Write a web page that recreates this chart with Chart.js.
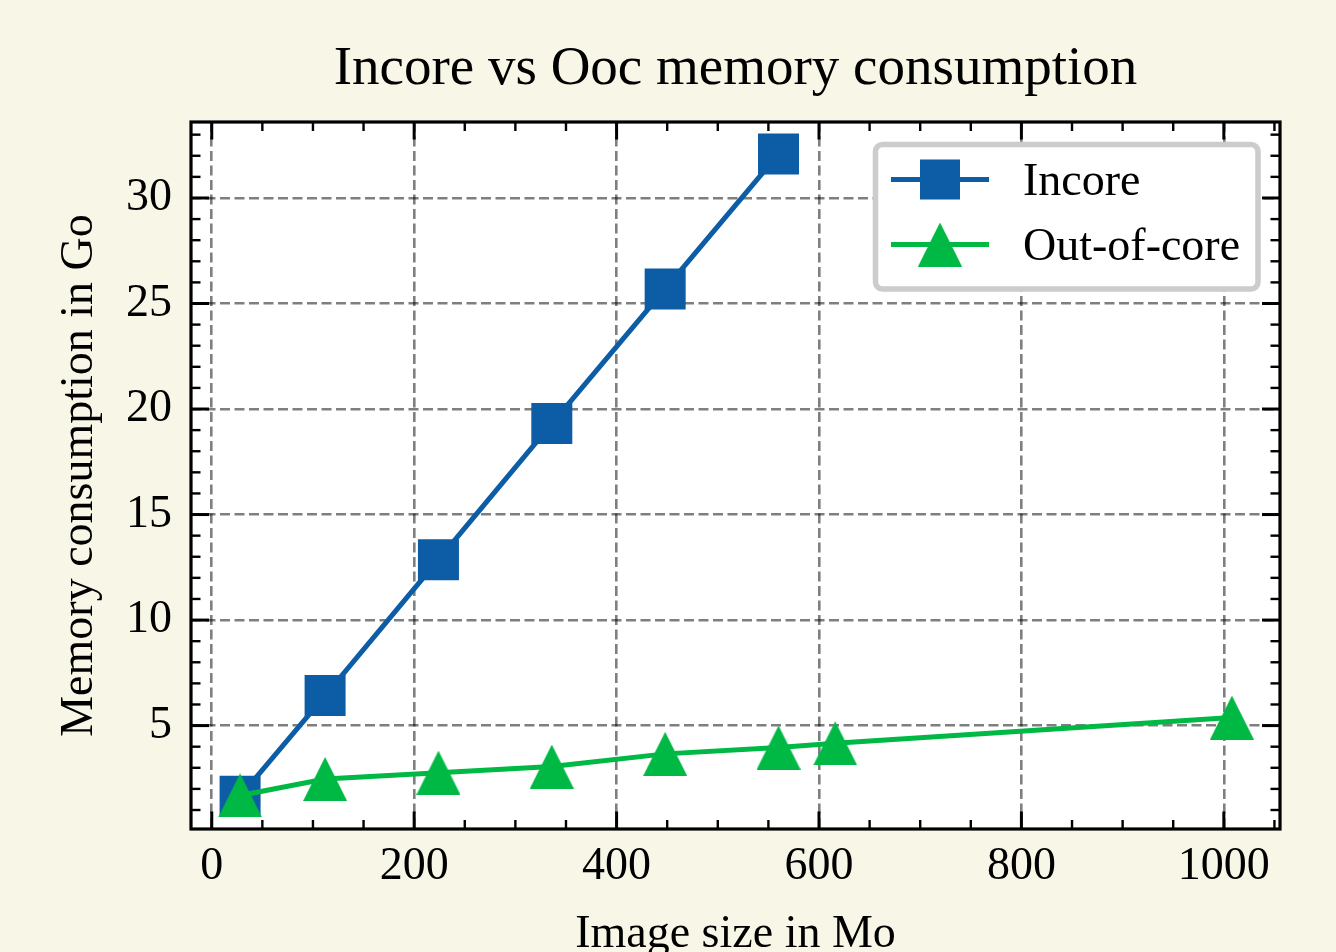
<!DOCTYPE html>
<html><head><meta charset="utf-8">
<script src="https://cdn.jsdelivr.net/npm/chart.js@4/dist/chart.umd.min.js"></script>
<style>
html,body{margin:0;padding:0;background:#f8f7e7;overflow:hidden;width:1336px;height:952px}
canvas{display:block}
</style>
</head><body>
<canvas id="c" width="1336" height="1000"></canvas>
<script>
// ---- data ----
const incoreSizes = [28, 112, 224, 336, 448, 560];
const incoreMemory = [1.65, 6.42, 12.86, 19.31, 25.69, 32.08];
const oocSizes = [28, 112, 224, 336, 448, 560, 616, 1008];
const oocMemory = [1.69, 2.47, 2.77, 3.06, 3.66, 3.96, 4.16, 5.38];
const xTickValues = [0, 200, 400, 600, 800, 1000];
const yTickValues = [5, 10, 15, 20, 25, 30];
const seriesLabels = ['Incore', 'Out-of-core'];
const seriesColors = ['#0C5DA5', '#00B945'];
const titleText = 'Incore vs Ooc memory consumption';
const xTitle = 'Image size in Mo';
const yTitle = 'Memory consumption in Go';

const FONT = "'Liberation Serif', 'Times New Roman', serif";
Chart.defaults.font.family = FONT;
Chart.defaults.color = '#000';

function triangleCanvas(color, size) {
  const c = document.createElement('canvas');
  c.width = size; c.height = size;
  const g = c.getContext('2d');
  g.fillStyle = color;
  g.beginPath();
  g.moveTo(size / 2, 0); g.lineTo(size, size); g.lineTo(0, size);
  g.closePath(); g.fill();
  return c;
}
const triImg = triangleCanvas(seriesColors[1], 44);

const toPoints = (xs, ys) => xs.map((x, i) => ({x: x, y: ys[i]}));

const framePlugin = {
  id: 'frame',
  beforeDraw(chart) {
    const {ctx, chartArea: a} = chart;
    ctx.save();
    ctx.fillStyle = '#ffffff';
    ctx.fillRect(a.left, a.top, a.right - a.left, a.bottom - a.top);
    ctx.restore();
  },
  afterDatasetsDraw(chart) {
    const {ctx, chartArea: a, scales: {x, y}} = chart;
    const seg = (x1, y1, x2, y2) => { ctx.beginPath(); ctx.moveTo(x1, y1); ctx.lineTo(x2, y2); ctx.stroke(); };
    ctx.save();
    ctx.strokeStyle = '#000';
    // minor ticks
    ctx.lineWidth = 2.4;
    for (let v = 50; v <= x.max; v += 50) {
      if (xTickValues.includes(v)) continue;
      const p = x.getPixelForValue(v);
      seg(p, a.bottom, p, a.bottom - 9); seg(p, a.top, p, a.top + 9);
    }
    for (let v = 1; v <= y.max; v += 1) {
      if (yTickValues.includes(v)) continue;
      const p = y.getPixelForValue(v);
      seg(a.left, p, a.left + 9.5, p); seg(a.right, p, a.right - 9.5, p);
    }
    // major ticks
    ctx.lineWidth = 3;
    xTickValues.forEach(v => {
      const p = x.getPixelForValue(v);
      seg(p, a.bottom, p, a.bottom - 17.5); seg(p, a.top, p, a.top + 17.5);
    });
    yTickValues.forEach(v => {
      const p = y.getPixelForValue(v);
      seg(a.left, p, a.left + 18, p); seg(a.right, p, a.right - 18, p);
    });
    // frame
    ctx.lineWidth = 3.2;
    ctx.strokeRect(a.left, a.top, a.right - a.left, a.bottom - a.top);
    ctx.restore();
  },
  afterDraw(chart) {
    const ctx = chart.ctx;
    ctx.save();
    // legend box
    const bx = 875.5, by = 144.5, bw = 382.5, bh = 144.5, r = 7;
    ctx.beginPath();
    ctx.roundRect(bx, by, bw, bh, r);
    ctx.fillStyle = '#ffffff';
    ctx.fill();
    ctx.lineWidth = 5.5;
    ctx.strokeStyle = '#cccccc';
    ctx.stroke();
    const rows = [179.5, 244.5];
    chart.data.datasets.forEach((ds, i) => {
      const yy = rows[i];
      ctx.strokeStyle = ds.borderColor;
      ctx.lineWidth = 5;
      ctx.beginPath(); ctx.moveTo(891, yy); ctx.lineTo(989, yy); ctx.stroke();
      if (i === 0) {
        ctx.fillStyle = ds.borderColor;
        ctx.fillRect(920, yy - 20, 40, 40);
      } else {
        ctx.drawImage(triImg, 940 - 22, yy - 22);
      }
      ctx.fillStyle = '#000';
      ctx.font = '46px ' + FONT;
      ctx.textBaseline = 'alphabetic';
      ctx.textAlign = 'left';
      ctx.fillText(ds.label, 1023, yy + 15.5);
    });
    ctx.restore();
  }
};

new Chart(document.getElementById('c'), {
  type: 'line',
  data: {
    datasets: [
      {
        label: seriesLabels[0],
        data: toPoints(incoreSizes, incoreMemory),
        borderColor: seriesColors[0],
        backgroundColor: seriesColors[0],
        borderWidth: 5,
        pointStyle: 'rect',
        pointRadius: 41 / Math.SQRT2,
        pointBorderWidth: 0,
        pointBackgroundColor: seriesColors[0],
        fill: false,
        tension: 0,
        order: 1
      },
      {
        label: seriesLabels[1],
        data: toPoints(oocSizes, oocMemory),
        borderColor: seriesColors[1],
        backgroundColor: seriesColors[1],
        borderWidth: 5,
        pointStyle: triImg,
        pointRadius: 22,
        pointBorderWidth: 0,
        fill: false,
        tension: 0,
        order: 0
      }
    ]
  },
  options: {
    responsive: false,
    animation: false,
    events: [],
    layout: {padding: {left: 0, right: 56, top: 0, bottom: 0}},
    plugins: {
      legend: {display: false},
      tooltip: {enabled: false},
      title: {
        display: true,
        text: titleText,
        fullSize: false,
        color: '#000',
        font: {family: FONT, size: 55, weight: 'normal', lineHeight: 1.2},
        padding: {top: 37, bottom: 19}
      }
    },
    scales: {
      x: {
        type: 'linear',
        min: -20.5, max: 1055.5,
        afterFit: s => { s.height = 171; },
        afterBuildTicks: s => { s.ticks = xTickValues.map(v => ({value: v})); },
        ticks: {
          callback: v => String(v),
          font: {family: FONT, size: 46, lineHeight: 1.2},
          color: '#000',
          padding: 10,
          maxRotation: 0,
          autoSkip: false
        },
        grid: {color: 'rgba(0,0,0,0.5)', lineWidth: 2.6, drawTicks: false},
        border: {display: false, dash: [10, 4.5]},
        title: {
          display: true, text: xTitle, color: '#000',
          font: {family: FONT, size: 46, lineHeight: 1.0},
          padding: {top: 0, bottom: 42}
        }
      },
      y: {
        type: 'linear',
        min: 0.1, max: 33.6,
        afterFit: s => { s.width = 191; },
        afterBuildTicks: s => { s.ticks = yTickValues.map(v => ({value: v})); },
        ticks: {
          callback: v => String(v),
          font: {family: FONT, size: 46, lineHeight: 1.2},
          color: '#000',
          padding: 19,
          autoSkip: false
        },
        grid: {color: 'rgba(0,0,0,0.5)', lineWidth: 2.6, drawTicks: false},
        border: {display: false, dash: [10, 4.5]},
        title: {
          display: true, text: yTitle, color: '#000',
          font: {family: FONT, size: 46, lineHeight: 1.0},
          padding: {top: 57, bottom: 0}
        }
      }
    }
  },
  plugins: [framePlugin]
});
</script>
</body></html>
